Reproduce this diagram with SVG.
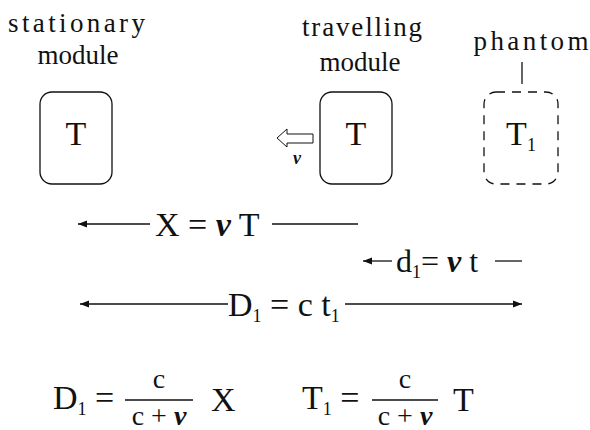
<svg xmlns="http://www.w3.org/2000/svg" width="590" height="430" viewBox="0 0 590 430">
<style>
.lbl{font-family:"Liberation Serif",serif;font-size:27px;fill:#111}
.m{font-family:"Liberation Serif",serif;font-size:34px;fill:#111}
.sub{font-size:18px}
.v{font-weight:bold;font-style:italic}
.box{fill:none;stroke:#111;stroke-width:1.3}
.ln{stroke:#111;stroke-width:1.3;fill:none}
</style>
<defs>
<marker id="ah" markerWidth="10" markerHeight="8" refX="9" refY="4" orient="auto-start-reverse" markerUnits="userSpaceOnUse">
<path d="M0,0.5 L9,4 L0,7.5 Z" fill="#111"/>
</marker>
</defs>
<rect width="590" height="430" fill="#fff"/>
<g id="stationary">
<text class="lbl" x="8" y="32" textLength="137" lengthAdjust="spacing">stationary</text>
<text class="lbl" x="78" y="64" text-anchor="middle">module</text>
<rect class="box" x="40" y="92" width="72" height="92" rx="12"/>
<text class="m" x="76" y="145" text-anchor="middle">T</text>
</g>
<g id="travelling">
<text class="lbl" x="362" y="36" text-anchor="middle" textLength="120" lengthAdjust="spacing">travelling</text>
<text class="lbl" x="360" y="71" text-anchor="middle">module</text>
<rect class="box" x="320" y="92" width="72" height="92" rx="12"/>
<text class="m" x="356" y="145" text-anchor="middle">T</text>
<polygon points="277,138 287,129 287,134 313,134 313,143 287,143 287,147" fill="#fff" stroke="#111" stroke-width="1"/>
<text class="lbl v" x="297" y="164" text-anchor="middle" style="font-size:18px">v</text>
</g>
<g id="phantom">
<text class="lbl" x="531" y="50" text-anchor="middle" textLength="115" lengthAdjust="spacing">phantom</text>
<line class="ln" x1="522" y1="62" x2="522" y2="84"/>
<rect class="box" x="484" y="92" width="74" height="92" rx="12" stroke-dasharray="9,7"/>
<text class="m" x="521" y="145" text-anchor="middle">T<tspan class="sub" dy="6">1</tspan></text>
</g>
<g id="connectors">
<line class="ln" x1="150" y1="224" x2="78" y2="224" marker-end="url(#ah)"/>
<line class="ln" x1="272" y1="224" x2="358" y2="224"/>
<line class="ln" x1="392" y1="261" x2="363" y2="261" marker-end="url(#ah)"/>
<line class="ln" x1="495" y1="261" x2="522" y2="261"/>
<line class="ln" x1="228" y1="304" x2="80" y2="304" marker-end="url(#ah)"/>
<line class="ln" x1="345" y1="304" x2="522" y2="304" marker-end="url(#ah)"/>
</g>
<g id="labels">
<text class="m" x="155" y="236">X = <tspan class="v">v</tspan> T</text>
<text class="m" x="396" y="272" style="font-size:32px">d<tspan class="sub" dy="6">1</tspan><tspan dy="-6">= </tspan><tspan class="v">v</tspan> t</text>
<text class="m" x="228" y="316">D<tspan class="sub" dy="6">1</tspan><tspan dy="-6"> = c t</tspan><tspan class="sub" dy="6">1</tspan></text>
</g>
<g id="eq1">
<text class="m" x="53" y="409">D<tspan class="sub" dy="6">1</tspan><tspan dy="-6"> =</tspan></text>
<text class="m" x="159" y="388" text-anchor="middle" style="font-size:28px">c</text>
<line class="ln" x1="125" y1="400" x2="193" y2="400"/>
<text class="m" x="159" y="425" text-anchor="middle" style="font-size:28px">c + <tspan class="v">v</tspan></text>
<text class="m" x="211" y="411">X</text>
</g>
<g id="eq2">
<text class="m" x="302" y="409">T<tspan class="sub" dy="6">1</tspan><tspan dy="-6"> =</tspan></text>
<text class="m" x="405" y="388" text-anchor="middle" style="font-size:28px">c</text>
<line class="ln" x1="372" y1="400" x2="438" y2="400"/>
<text class="m" x="405" y="425" text-anchor="middle" style="font-size:28px">c + <tspan class="v">v</tspan></text>
<text class="m" x="453" y="411">T</text>
</g>
</svg>
